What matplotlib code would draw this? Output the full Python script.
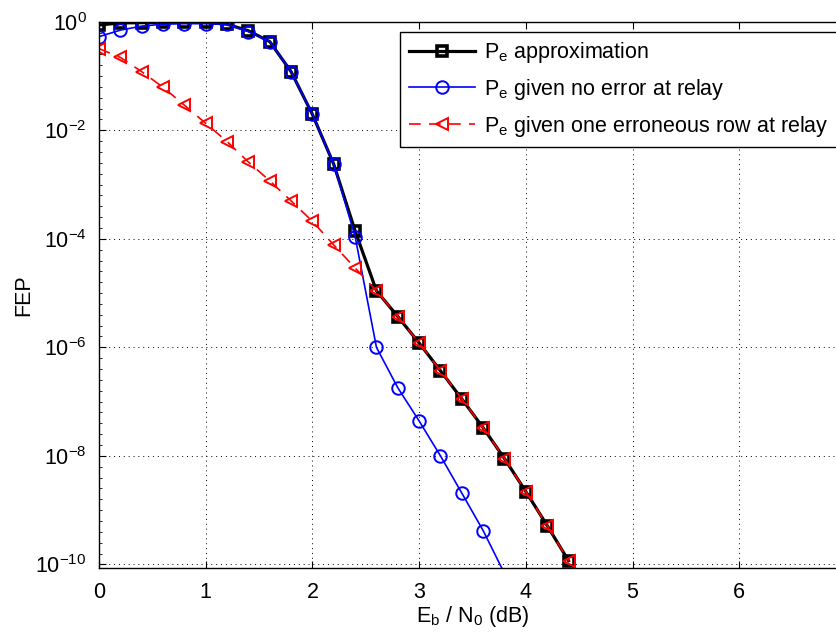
import numpy as np
import matplotlib
matplotlib.use('Agg')
import matplotlib.pyplot as plt
from matplotlib.ticker import FixedLocator, NullFormatter

plt.rcParams['font.family'] = ['Liberation Sans', 'DejaVu Sans']
plt.rcParams['mathtext.fontset'] = 'custom'
plt.rcParams['mathtext.rm'] = 'Liberation Sans'
plt.rcParams['mathtext.it'] = 'Liberation Sans:italic'
plt.rcParams['mathtext.default'] = 'regular'

FS = 15.5

# Eb/N0 grid (dB)
ebn0 = [0.0, 0.2, 0.4, 0.6, 0.8, 1.0, 1.2, 1.4, 1.6, 1.8, 2.0, 2.2, 2.4,
        2.6, 2.8, 3.0, 3.2, 3.4, 3.6, 3.8, 4.0, 4.2, 4.4]

# FEP approximation
fep_approx = [0.87, 0.95, 0.96, 0.97, 0.97, 0.97, 0.9, 0.68, 0.43, 0.12,
              1.96e-2, 2.36e-3, 1.4e-4, 1.1e-5, 3.7e-6, 1.2e-6, 3.7e-7,
              1.12e-7, 3.3e-8, 8.9e-9, 2.2e-9, 5.2e-10, 1.17e-10]

# FEP given no error at relay
ebn0_noerr = ebn0[:20]
fep_noerr = [0.53, 0.70, 0.83, 0.90, 0.92, 0.92, 0.89, 0.66, 0.43, 0.12,
             1.96e-2, 2.36e-3, 1.1e-4, 1.0e-6, 1.8e-7, 4.4e-8, 1.0e-8,
             2.06e-9, 4.2e-10, 6.8e-11]

# FEP given one erroneous row at relay
fep_onerow = [0.32, 0.22, 0.12, 0.062, 0.029, 0.0134, 6.2e-3, 2.6e-3,
              1.17e-3, 5.0e-4, 2.1e-4, 7.7e-5, 2.9e-5, 1.1e-5, 3.7e-6,
              1.2e-6, 3.7e-7, 1.12e-7, 3.3e-8, 8.9e-9, 2.2e-9, 5.2e-10,
              1.17e-10]

ymin, ymax = 10 ** -10.06, 1.0

fig = plt.figure(figsize=(8.37, 6.35), dpi=100)
ax = fig.add_axes([0.1183, 0.106, 0.8924, 0.8598])

ax.semilogy(ebn0, fep_approx, color='k', lw=2.3, marker='s', ms=7.5,
            mfc='none', mew=2.6, label='P$_e$ approximation')
vis = [i for i, v in enumerate(fep_noerr) if v >= ymin]
ax.semilogy(ebn0_noerr, fep_noerr, color='#0000ff', lw=1.2, marker='o',
            ms=9, mfc='none', mew=1.4, markevery=vis,
            label='P$_e$ given no error at relay')
ax.semilogy(ebn0, fep_onerow, color='#ff0000', lw=1.2, ls=(0, (7, 5)),
            marker='<', ms=9, mfc='none', mew=1.4,
            label='P$_e$ given one erroneous row at relay')

ax.set_xlim(0, 7)
ax.set_ylim(ymin, ymax)
ax.set_xticks(range(7))
ax.yaxis.set_major_locator(FixedLocator([10.0 ** k for k in range(-10, 1, 2)]))
ax.yaxis.set_minor_locator(FixedLocator(10 ** np.arange(-10, 0.01, 0.2)))
ax.yaxis.set_minor_formatter(NullFormatter())
ax.tick_params(which='both', direction='in', labelsize=FS, top=True)
ax.tick_params(which='major', length=5, width=0.8)
ax.tick_params(which='minor', length=2.5, width=0.6)
ax.tick_params(axis='x', which='minor', bottom=False, top=False)
ax.tick_params(axis='x', pad=10)
ax.tick_params(axis='y', pad=9)
ax.grid(True, which='major', ls=(0, (1, 4)), color='k', lw=0.7)
for s in ax.spines.values():
    s.set_linewidth(1.0)

ax.set_xlabel('E$_b$ / N$_0$ (dB)', fontsize=FS, labelpad=1)
ax.set_ylabel('FEP', fontsize=FS, labelpad=1)

leg = ax.legend(loc='upper left', bbox_to_anchor=(0.403, 0.982), fontsize=FS,
                fancybox=False, framealpha=1, edgecolor='k',
                handlelength=3.1, handletextpad=0.4, borderpad=0.4,
                labelspacing=0.55, borderaxespad=0)
leg.get_frame().set_linewidth(1.0)

fig.savefig('out.png', dpi=100)
